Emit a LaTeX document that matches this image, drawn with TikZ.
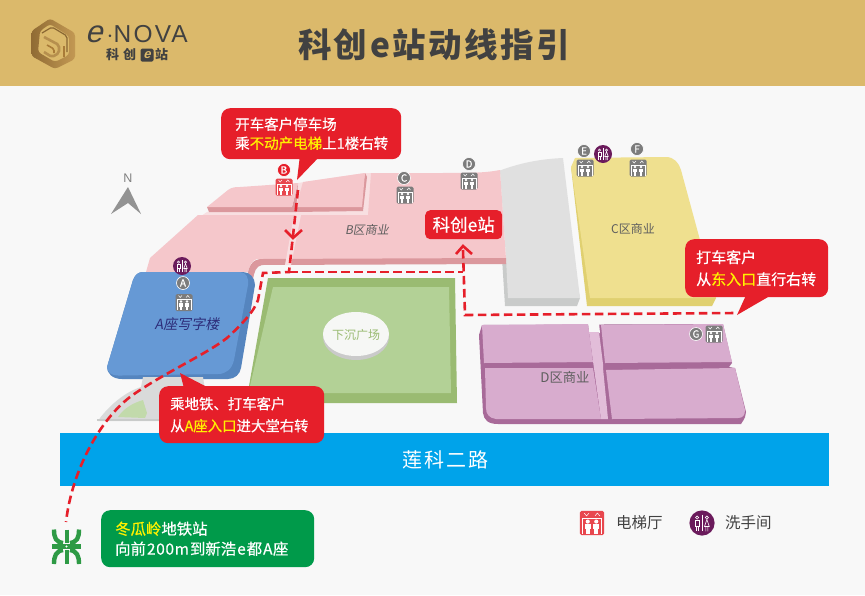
\documentclass[tikz,border=0pt]{standalone}
\usepackage{fontspec}
\setmainfont{Noto Sans CJK SC}
\newfontfamily\slantcjk[FakeSlant=0.18]{Noto Sans CJK SC}
\newfontfamily\medcjk[FakeBold=0.5]{Noto Sans CJK SC}
\newfontfamily\logosans[LetterSpace=9]{Liberation Sans}
\newfontfamily\logoslant[FakeSlant=0.25]{Liberation Sans}
\usetikzlibrary{calc}
\newcommand{\fs}[2]{\fontsize{#1}{#2}\selectfont}
\definecolor{bgc}{HTML}{F8F8F8}
\definecolor{gold}{HTML}{DBB96B}
\definecolor{inkc}{HTML}{414141}
\definecolor{redc}{HTML}{E61F2A}
\definecolor{hl}{HTML}{FFF100}
\definecolor{pinkc}{HTML}{F5C7CB}
\definecolor{pinkd}{HTML}{DB989D}
\definecolor{pinkl}{HTML}{F8DFE1}
\definecolor{grayc}{HTML}{E0E0E0}
\definecolor{grayd}{HTML}{C9CBCA}
\definecolor{yelc}{HTML}{EFE08F}
\definecolor{yeld}{HTML}{E0D070}
\definecolor{purc}{HTML}{D8ACCE}
\definecolor{purd}{HTML}{A86A99}
\definecolor{purl}{HTML}{E2BDD9}
\definecolor{bluc}{HTML}{6699D5}
\definecolor{blud}{HTML}{5585BF}
\definecolor{grnc}{HTML}{B3D196}
\definecolor{grnd}{HTML}{9ABB72}
\definecolor{roadc}{HTML}{00A3EA}
\definecolor{metroc}{HTML}{2E9A45}
\definecolor{boxg}{HTML}{009A4A}
\definecolor{liftg}{HTML}{7C7C7C}
\definecolor{liftr}{HTML}{E8474E}
\definecolor{wcc}{HTML}{6B1B5C}
\definecolor{logoa}{HTML}{A97B38}
\definecolor{logob}{HTML}{C9A05A}
\definecolor{logoc}{HTML}{8A6733}
\tikzset{
 x=1pt,y=-1pt,
 callout/.style={fill=redc,rounded corners=9pt,text=white,inner xsep=0pt,inner ysep=0pt,align=left,anchor=north west},
 zonelabel/.style={text=#1,inner sep=0pt},
 route/.style={draw=redc,line width=2.6pt,dash pattern=on 8.5pt off 4.5pt},
 chev/.style={draw=redc,line width=2.6pt},
 tag/.style={circle,fill=liftg,draw=white,line width=.6pt,text=white,inner sep=0pt,minimum size=13pt,font=\medcjk\fs{10}{10}},
 legendtext/.style={text=inkc,anchor=west,inner sep=0pt,font=\fs{15.5}{16}},
 pics/lifticon/.style={code={
   \fill[#1,rounded corners=1.5pt] (-8.5,-8.5) rectangle (8.5,8.5);
   \draw[white,line width=.45pt] (-6.8,7.5) -- (-6.8,-3.2) -- (6.8,-3.2) -- (6.8,7.5);
   \draw[white,line width=.5pt] (-5.5,-7) -- (-3.8,-5) -- (-2.1,-7) (2.1,-5) -- (3.8,-7) -- (5.5,-5);
   \foreach \sx in {-3,3}{
     \fill[white] (\sx,-1) circle (1.45);
     \fill[white] (\sx-2.1,0.8) rectangle (\sx+2.1,4.2);
     \fill[white] (\sx-1.4,4) rectangle (\sx+1.4,7.5);
   }
 }},
 pics/wcicon/.style={code={
   \fill[wcc] (0,0) circle (9);
   \draw[white,line width=.5pt] (0,-6) -- (0,6);
   \draw[white,line width=.6pt] (-3.5,-3.9) circle (1.1) (3.5,-3.9) circle (1.1);
   \draw[white,line width=.6pt] (-5,-2) rectangle (-2,2) (-4.3,2) -- (-4.3,6) (-2.7,2) -- (-2.7,6);
   \draw[white,line width=.6pt] (3.5,-2.5) -- (1.8,2.5) -- (5.2,2.5) -- cycle (2.8,2.5) -- (2.8,6) (4.2,2.5) -- (4.2,6);
 }}
}
\begin{document}
\begin{tikzpicture}
\useasboundingbox (0,0) rectangle (865,595);
\fill[bgc] (0,0) rectangle (865,595);
\fill[gold] (0,0) rectangle (865,86);

% logo mark
\path[left color=logoc!80!logoa,right color=logob!80!logoa,even odd rule,rounded corners=3pt]
  (50,18.5) -- (75,33) -- (75,59) -- (55,69) -- (31.5,56) -- (31.5,31) -- cycle
  (50,24) -- (40,31) -- (38,52) -- (55,62) -- (69,55) -- (69,36) -- cycle;
\draw[logoc,line width=1.2pt,rounded corners=2pt] (42,33) -- (52,27) -- (67,36) -- (67,52);
\draw[logob!70!logoc,line width=2.6pt,rounded corners=2pt] (44,37) -- (59,45) -- (59,53) -- (52,57) -- (44,52);
\draw[logoa,line width=1.6pt,rounded corners=1.5pt] (47,45) -- (54,49) -- (54,53) (64,46) -- (64,57);
\node[inner sep=0pt,text=inkc,anchor=west] (logoe) at (85,34) {\logoslant\fs{31}{31}e};
\node[inner sep=0pt,text=inkc,anchor=west] (logon) at (106.5,34.5) {\logosans\fs{24.5}{25}$\cdot$NOVA};
\node[inner sep=0pt,text=inkc,anchor=west,font=\bfseries\fs{13}{14}] (logocn) at (106,55) {科\hspace{4pt}创\hspace{19pt}站};
\node[fill=inkc,rounded corners=1.5pt,text=gold,inner sep=0pt,minimum width=13pt,minimum height=13pt,font=\bfseries\logoslant\fs{13}{13}] (logobox) at (147,55) {e};

\node[text=inkc,font=\bfseries\fs{33.5}{34},inner sep=0pt] (title) at (434,45) {科\hspace{2.5pt}创\hspace{2.5pt}e\hspace{2.5pt}站\hspace{2.5pt}动\hspace{2.5pt}线\hspace{2.5pt}指\hspace{2.5pt}引};

% gray block
\fill[grayd] (502,258) -- (505,306) -- (577,306) -- (580,298) -- (570,250) -- (520,250) -- cycle;
\fill[grayc] (500,170.5) .. controls (520,163) and (540,159) .. (563,158) -- (580,298) -- (508,298) -- (506,258) -- cycle;

% B zone
\fill[pinkl] (207,212) -- (293,205) -- (298,183) -- (365,173) -- (371,173) -- (371,218) -- (198,218) -- cycle;
\fill[pinkc] (198,215) -- (368,215) -- (371,173) -- (430,173) .. controls (470,173) and (485,173) .. (500,170) -- (506,259) -- (257,259) .. controls (252,260) and (249,266) .. (248,272) -- (146,272) -- (150,258) -- cycle;
\fill[pinkd] (500,258) -- (506,258) -- (506,264) -- (262,265) .. controls (256,266) and (254,272) .. (253,280) -- (247,280) .. controls (248,266) and (252,259) .. (262,259) -- cycle;
\fill[pinkl] (294,215) -- (301,215) -- (291,265) -- (285,265) -- cycle;
% upper blocks
\fill[pinkd] (207,207) -- (292,207) -- (298,183) -- (296,212) -- (209,212) -- cycle;
\fill[pinkc] (207,207) -- (228,190) .. controls (232,187) and (236,187) .. (240,187) -- (298,183) -- (292,207) -- cycle;
\fill[pinkd] (365,173) -- (367,177) -- (363,211) -- (295,212) -- (296,207) -- (360,207) -- cycle;
\fill[pinkc] (303,182) -- (365,173) -- (362,207) -- (296,207) -- cycle;

% yellow block
\fill[yeld] (571,167) -- (587,306) -- (712,306) -- (716,298) -- (700,240) -- (571,167) -- cycle;
\fill[yelc] (571,167) -- (575,158) -- (666,157) .. controls (674,157) and (679,163) .. (681,170) -- (700,240) -- (716,298) -- (590,298) -- cycle;

% purple zone
\fill[purd] (482,325) -- (723,324) -- (732,363) -- (729,367) -- (735,368) -- (746,412) .. controls (746,416) and (745,418) .. (741,424) -- (498,424) .. controls (488,424) and (484,420) .. (483,413) -- (479,335) -- cycle;
\fill[bgc] (588,323) -- (599,323) -- (600,333) -- (589,333) -- cycle;
\fill[purl] (589,332) -- (599,332) -- (603,364) -- (603,368) -- (608,419) -- (601,419) -- cycle;
\fill[purc] (482,325) -- (588,324) -- (593,362) -- (484,363) -- cycle;
\fill[purc] (601,325) -- (723,324) -- (732,362) -- (605,363) -- cycle;
\fill[purc] (485,368) -- (593,368) -- (601,419) -- (496,419) .. controls (489,418) and (486,414) .. (486,408) -- cycle;
\fill[purc] (606,370) -- (735,368) -- (745,410) .. controls (745,415) and (743,418) .. (738,418) -- (612,419) -- cycle;

% blue block
\fill[blud] (143,272) -- (243,272) .. controls (250,272) and (255,278) .. (255,285) -- (241,368) .. controls (240,374) and (235,379) .. (228,379) -- (122,379) .. controls (112,379) and (107,373) .. (107,367) -- (133,280) .. controls (135,275) and (138,272) .. (143,272) -- cycle;
\fill[bluc] (143,272) -- (240,272) .. controls (246,272) and (249,278) .. (248,285) -- (234,360) .. controls (232,369) and (226,374) .. (218,374) -- (122,375.5) .. controls (112,376) and (107,373) .. (107,367) -- (133,280) .. controls (135,275) and (138,272) .. (143,272) -- cycle;

% green block
\fill[grnd] (268,278) -- (455,278) -- (457,403) -- (249,403) -- (249,386) -- cycle;
\fill[grnc] (273,287) -- (449,287) -- (451,393) -- (258,393) -- (250,386) -- cycle;
\fill[grayc!90!black] (356,337) ellipse (33 and 23);
\fill[bgc!97!grnc] (356,334) ellipse (33 and 22);
\node[text=grnd,font=\fs{12}{12},inner sep=0pt] (sunken) at (356,335) {下沉广场};

% entrance
\fill[grayc!70!grayd] (143,377) -- (203,377) -- (205,390) -- (180,421) -- (98,421) -- (100,418) .. controls (110,405) and (125,392) .. (141,387) -- cycle;
\fill[grayd] (97,419) -- (165,419) -- (165,421) -- (97,421) -- cycle;
\fill[grnc!80!white] (118,417) .. controls (124,408) and (133,403) .. (143,400) -- (147,413) -- (145,418) -- cycle;

% road
\fill[roadc] (60,433) rectangle (829,486);
\node[text=white,font=\fs{20}{20},inner sep=0pt] (roadname) at (445,460) {莲\hspace{2pt}科\hspace{2pt}二\hspace{2pt}路};

% metro symbol
\draw[metroc,line width=4.4pt] (54,529.5) .. controls (54,538) and (56,542) .. (63,543);
\draw[metroc,line width=4.4pt] (79,529.5) .. controls (79,538) and (77,542) .. (70,543);
\draw[metroc,line width=4pt] (66.5,529.5) -- (66.5,543);
\draw[metroc,line width=4.4pt] (52,546.5) -- (81,546.5);
\draw[metroc,line width=4.4pt] (54,564) .. controls (54,556) and (56,551) .. (63,550);
\draw[metroc,line width=4.4pt] (79,564) .. controls (79,556) and (77,551) .. (70,550);
\draw[metroc,line width=4pt] (66.5,550) -- (66.5,564);
\fill[white] (66.5,546.5) circle (1.2);

% north arrow
\fill[gray!85] (128,187) -- (141,214) -- (128,203) -- (111,214) -- cycle;
\node[text=gray,font=\logosans\fs{12.5}{13},inner sep=0pt] (north) at (128,178) {N};

% labels
\node[zonelabel=inkc!85,font=\slantcjk\fs{12}{12}] (zb) at (367,230) {B区商业};
\node[zonelabel=inkc!85,font=\fs{12}{12}] (zc) at (633,229) {C区商业};
\node[zonelabel=inkc!85,font=\fs{13.3}{13}] (zd) at (565,377) {D区商业};
\node[zonelabel=blue!30!inkc,font=\slantcjk\fs{14}{14}] (za) at (187,324) {A座写字楼};

% route
\coordinate (rb) at (298,190);
\coordinate (rj) at (289,272);
\coordinate (rc) at (263,273);
\coordinate (rd) at (258,300);
\coordinate (rm) at (66,522);
\coordinate (re) at (463,250);
\coordinate (rf) at (463,272);
\coordinate (rg) at (465,315);
\coordinate (rh) at (737,313);
\draw[route] (rb) -- (rj) -- (rc) -- (rd) .. controls (254,312) and (240,326) .. (227,338) .. controls (205,355) and (160,375) .. (130,397) .. controls (100,420) and (72,470) .. (rm);
\draw[route] (rj) -- (rf);
\draw[route] (re) -- (rg) -- (rh);
\draw[chev] (285,230) -- (293,238) -- (302,230);
\draw[chev] (456,254) -- (463,246) -- (472,254);

% elevators and toilets
\pic (la) at (184,302.5) {lifticon=liftg};
\pic (lb) at (284,187) {lifticon=liftr};
\pic (lc) at (405,195) {lifticon=liftg};
\pic (ld) at (469,181) {lifticon=liftg};
\pic (le) at (585,168) {lifticon=liftg};
\pic (lf) at (638,168) {lifticon=liftg};
\pic (lg) at (714,334) {lifticon=liftg};
\pic (wa) at (182,266) {wcicon};
\pic (we) at (603,154) {wcicon};
\node[tag] (ta) at (183,283) {A};
\node[tag,fill=redc] (tb) at (284,170) {B};
\node[tag] (tc) at (404,178) {C};
\node[tag] (td) at (469,164) {D};
\node[tag] (te) at (584,151) {E};
\node[tag] (tf) at (637,149) {F};
\node[tag] (tg) at (696,334) {G};

% legend
\pic[scale=1.42] (legl) at (592,523) {lifticon=liftr};
\node[legendtext] (legt) at (616,523) {电梯厅};
\pic[scale=1.4] (legw) at (702,523) {wcicon};
\node[legendtext] (legu) at (725,523) {洗手间};

% callouts
\fill[redc] (300,155) -- (297,180) -- (321,155) -- cycle;
\node[callout,minimum width=180pt,minimum height=51pt,text width=152pt,inner xsep=14pt,font=\medcjk\fs{14.5}{19}] (c1) at (221,108) {开车客户停车场\\乘{\color{hl}不动产电梯}上1楼右转};
\node[callout,rounded corners=5pt,minimum width=77pt,minimum height=29pt,align=center,font=\medcjk\fs{17.5}{18}] (c2) at (425,210) {科创e站};
\fill[redc] (747,293) -- (737,315) -- (775,293) -- cycle;
\node[callout,minimum width=143pt,minimum height=58pt,text width=121pt,inner xsep=11pt,font=\medcjk\fs{15}{22}] (c3) at (685,239) {打车客户\\从{\color{hl}东入口}直行右转};
\fill[redc] (180,373) -- (185,392) -- (207,392) -- (207,387) -- cycle;
\node[callout,minimum width=165pt,minimum height=57pt,text width=143pt,inner xsep=11pt,font=\medcjk\fs{14.4}{22}] (c4) at (159,386) {乘地铁、打车客户\\从{\color{hl}A座入口}进大堂右转};
\node[callout,fill=boxg,minimum width=213pt,minimum height=57pt,text width=185pt,inner xsep=14pt,font=\medcjk\fs{15.4}{20}] (c5) at (101,510) {{\color{hl}冬瓜岭}地铁站\\向前\hspace{1pt}2\hspace{.7pt}0\hspace{.7pt}0\hspace{.7pt}m\hspace{1pt}到新浩\hspace{1pt}e\hspace{1pt}都\hspace{1pt}A\hspace{.5pt}座};
\end{tikzpicture}
\end{document}
